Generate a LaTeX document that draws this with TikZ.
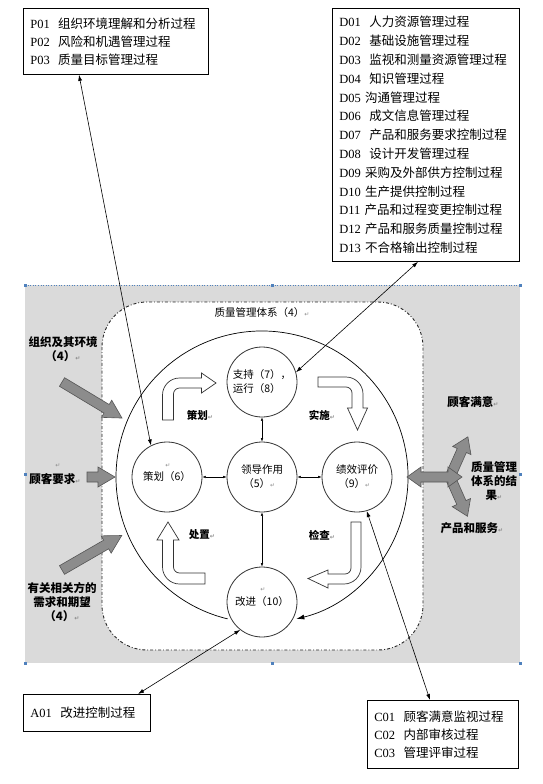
\documentclass[tikz,border=0pt]{standalone}
\usepackage{fontspec}
\setmainfont{Liberation Serif}
\newfontfamily\cjk{Noto Sans CJK SC}
\newfontfamily\dvs{DejaVu Sans}
\usetikzlibrary{arrows.meta}
\definecolor{bggray}{RGB}{218,218,218}
\definecolor{handle}{RGB}{79,129,189}
\definecolor{arrfill}{RGB}{140,140,140}
\definecolor{arredge}{RGB}{85,85,85}
\newcommand\rmk{{\dvs\fontsize{6}{6}\selectfont\color{black!45}↵}}
\newcommand\fatarr[7]{\path[grayarr,shift={(#1,#2)},rotate=#3] (0,-#5) -- ({#4-#7},-#5) -- ({#4-#7},-#6) -- (#4,0) -- ({#4-#7},#6) -- ({#4-#7},#5) -- (0,#5) -- cycle;}
\tikzset{
 listbox/.style={draw=black, line width=0.8pt, fill=white, align=left, inner xsep=7pt, inner ysep=0pt, font=\fontsize{12.5}{18}\selectfont, anchor=north west},
 stage/.style={circle, draw=black!80, line width=0.8pt, fill=white, minimum size=70pt, inner sep=0pt, font=\cjk\fontsize{10.5}{14}\selectfont, align=left},
 lbl/.style={font=\cjk\bfseries\fontsize{11.5}{14}\selectfont, align=center, inner sep=0pt},
 smlbl/.style={font=\cjk\bfseries\fontsize{10.5}{13}\selectfont, inner sep=0pt},
 retmark/.style={inner sep=0pt},
 uarrow/.style={draw=black!80, line width=0.7pt, fill=white},
 grayarr/.style={fill=arrfill, draw=arredge, line width=0.6pt},
 link/.style={line width=0.6pt, {Latex[length=6pt,width=4pt]}-{Latex[length=6pt,width=4pt]}},
 hublink/.style={line width=0.4pt, {Latex[length=3.5pt,width=2.5pt]}-{Latex[length=3.5pt,width=2.5pt]}},
}
\begin{document}
\begin{tikzpicture}[x=1pt,y=-1pt]
\useasboundingbox (0,0) rectangle (542,784);
\fill[white] (0,0) rectangle (542,784);
% grey background
\fill[bggray] (25,285) rectangle (520,663);
\draw[handle, dotted, line width=0.6pt] (25,285) -- (520,285);
\foreach \p in {(25,285),(272,285),(520,285),(25,663),(272,663),(520,663),(25,474),(520,474)}
  \fill[handle] \p +(-1.5,-1.5) rectangle +(1.5,1.5);
% rounded system box
\draw[fill=white, draw=black!85, line width=0.9pt, dash dot, rounded corners=45pt] (102,302) rectangle (423,650);
\node[font=\cjk\fontsize{10.5}{13}\selectfont, inner sep=0pt] (qmstitle) at (262,313) {质量管理体系（4）\rmk};
% big cycle
\draw[line width=0.7pt, -{Latex[length=8pt,width=5pt]}] (227.7,618.9) arc[start angle=103.6, end angle=436.4, radius=146];
% stages
\node[stage] (support) at (262,382) {支持（7），\\运行（8）};
\node[stage] (plan) at (167,477) {策划（6）};
\node[stage] (lead) at (262,477) {领导作用\\\ （5）\rmk};
\node[stage] (eval) at (357,477) {绩效评价\\\ （9）\rmk};
\node[stage] (improve) at (262,602) {改进（10）};
\node[retmark] (mkplan) at (168,466) {\rmk};
\node[retmark] (mkimp) at (263,590) {\rmk};
\draw[hublink] (lead) -- (support);
\draw[hublink] (lead) -- (plan);
\draw[hublink] (lead) -- (eval);
\draw[hublink] (lead) -- (improve);
% U arrows
\draw[uarrow] (162.5,420) -- (162.5,395) arc[start angle=180, end angle=270, radius=17] -- (201.5,378) -- (201.5,373) -- (216,383) -- (201.5,393) -- (201.5,388) -- (179.5,388) arc[start angle=270, end angle=180, radius=6] -- (173.5,420) -- cycle;
\draw[uarrow] (318,377) -- (346,377) arc[start angle=270, end angle=360, radius=17] -- (363,408) -- (367.5,408) -- (357.5,430) -- (347.5,408) -- (352,408) -- (352,393) arc[start angle=0, end angle=-90, radius=6] -- (318,387) -- cycle;
\draw[uarrow] (351,522) -- (361,522) -- (361,567) arc[start angle=0, end angle=90, radius=17] -- (328,584) -- (328,588) -- (308,578.5) -- (328,570) -- (328,574) -- (345,574) arc[start angle=90, end angle=0, radius=6] -- cycle;
\draw[uarrow] (205,573) -- (205,584) -- (179.5,584) arc[start angle=90, end angle=180, radius=17] -- (162.5,540) -- (157,540) -- (168,522) -- (179,540) -- (173.5,540) -- (173.5,567) arc[start angle=180, end angle=90, radius=6] -- cycle;
\node[smlbl] (lplan) at (200,415) {策划\rmk};
\node[smlbl] (ldo) at (322,415) {实施\rmk};
\node[smlbl] (lact) at (202,535) {处置\rmk};
\node[smlbl] (lcheck) at (322,535) {检查\rmk};
% grey input / output arrows
\fatarr{62}{382}{-31}{70}{5}{10}{18}
\fatarr{62}{570}{30}{69}{5}{10}{18}
\fatarr{87}{477}{0}{28}{5}{10}{17}
\fatarr{450}{477}{66}{44}{5}{10}{15}
\fatarr{450}{477}{-66}{43}{5}{10}{15}
\path[grayarr] (407,477) -- (421,467) -- (421,472) -- (448,472) -- (448,467) -- (462,477) -- (448,487) -- (448,482) -- (421,482) -- (421,487) -- cycle;
% outside labels
\node[lbl] (orgenv) at (63,349) {组织及其环境\\（4）\rmk};
\node[retmark] (mkreq) at (58,466) {\rmk};
\node[lbl] (custreq) at (55,479) {顾客要求\rmk};
\node[lbl] (parties) at (62,602) {有关相关方的\\需求和期望\\（4）\rmk};
\node[lbl] (satis) at (473,402) {顾客满意\rmk};
\node[lbl] (result) at (494,481) {质量管理\\体系的结\\果\rmk};
\node[lbl] (prod) at (472,528) {产品和服务\rmk};
% process boxes
\node[listbox, text width=171pt, minimum height=66pt] (pbox) at (23,8) {P01~~{\cjk 组织环境理解和分析过程}\\P02~~{\cjk 风险和机遇管理过程}\\P03~~{\cjk 质量目标管理过程}};
\node[listbox, text width=173pt, minimum height=253pt, font=\fontsize{12.5}{18.8}\selectfont] (dbox) at (332,8) {D01~~{\cjk 人力资源管理过程}\\D02~~{\cjk 基础设施管理过程}\\D03~~{\cjk 监视和测量资源管理过程}\\D04~~{\cjk 知识管理过程}\\D05 {\cjk 沟通管理过程}\\D06~~{\cjk 成文信息管理过程}\\D07~~{\cjk 产品和服务要求控制过程}\\D08~~{\cjk 设计开发管理过程}\\D09 {\cjk 采购及外部供方控制过程}\\D10 {\cjk 生产提供控制过程}\\D11 {\cjk 产品和过程变更控制过程}\\D12 {\cjk 产品和服务质量控制过程}\\D13 {\cjk 不合格输出控制过程}};
\node[listbox, text width=113pt, minimum height=37pt] (abox) at (23,694) {A01~~{\cjk 改进控制过程}};
\node[listbox, text width=137pt, minimum height=68pt] (cbox) at (367,700) {C01~~{\cjk 顾客满意监视过程}\\C02~~{\cjk 内部审核过程}\\C03~~{\cjk 管理评审过程}};
% connectors
\draw[link] ([xshift=56pt]pbox.south west) -- (plan.117);
\draw[link] ([xshift=86pt]dbox.south west) -- (support.16);
\draw[link] ([xshift=115pt]abox.north west) -- (improve.232);
\draw[link] ([xshift=63pt]cbox.north west) -- (eval.286);
\end{tikzpicture}
\end{document}
